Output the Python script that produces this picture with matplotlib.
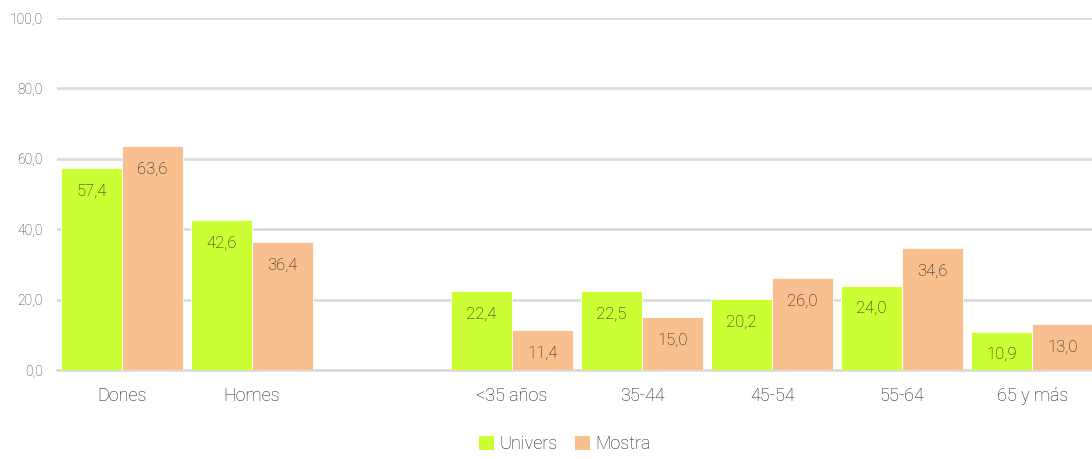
import matplotlib
matplotlib.use("Agg")
import matplotlib.pyplot as plt
import numpy as np
from matplotlib.patches import Patch

categories = ["Dones", "Homes", "", "<35 años", "35-44", "45-54", "55-64", "65 y más"]
univers = [57.4, 42.6, None, 22.4, 22.5, 20.2, 24.0, 10.9]
mostra = [63.6, 36.4, None, 11.4, 15.0, 26.0, 34.6, 13.0]
yticks = [0, 20, 40, 60, 80, 100]

plt.rcParams['font.family'] = ["Roboto", "DejaVu Sans"]
plt.rcParams['font.weight'] = "light"

c_univ = "#CCFF33"
c_most = "#F9C08F"
grid_c = "#D9D9D9"

fig = plt.figure(figsize=(10.92, 4.59), dpi=100)
ax = fig.add_axes([57/1092, 89/459, 1 - 57/1092, (370-18)/459])

x = np.arange(len(categories))
w = 0.47
for i in range(len(categories)):
    for val, off, col in ((univers[i], -w/2, c_univ), (mostra[i], w/2, c_most)):
        if val is None:
            continue
        ax.bar(x[i] + off, val, width=w, color=col, edgecolor="white", linewidth=0.6, zorder=3)
        ax.annotate(f"{val:.1f}".replace(".", ","), xy=(x[i] + off, val), xytext=(0, -16.5),
                    textcoords="offset points", ha="center", va="center",
                    fontsize=12, color="#1a1a1a", zorder=4)

ax.set_xlim(-0.5, 7.46)
ax.set_ylim(0, 100)
ax.set_yticks(yticks)
ax.set_yticklabels([f"{v:.1f}".replace(".", ",") for v in yticks], fontsize=10, color="#333333")
ax.set_xticks(x)
ax.set_xticklabels(categories, fontsize=13, color="#1a1a1a")
ax.tick_params(axis="both", length=0)
ax.tick_params(axis="y", pad=10)
ax.tick_params(axis="x", pad=12)
ax.grid(axis="y", color=grid_c, linewidth=1.8, zorder=0)
for s in ["top", "right", "left"]:
    ax.spines[s].set_visible(False)
ax.spines["bottom"].set_color(grid_c)
ax.spines["bottom"].set_linewidth(1.8)

handles = [Patch(facecolor=c_univ, label="Univers"), Patch(facecolor=c_most, label="Mostra")]
fig.legend(handles=handles, loc="center", bbox_to_anchor=(565/1092, 1 - 444/459), ncol=2,
           frameon=False, fontsize=13, handlelength=0.8, handleheight=0.8,
           handletextpad=0.3, columnspacing=1.0, labelcolor="#1a1a1a")

fig.savefig("out.png", dpi=100)
